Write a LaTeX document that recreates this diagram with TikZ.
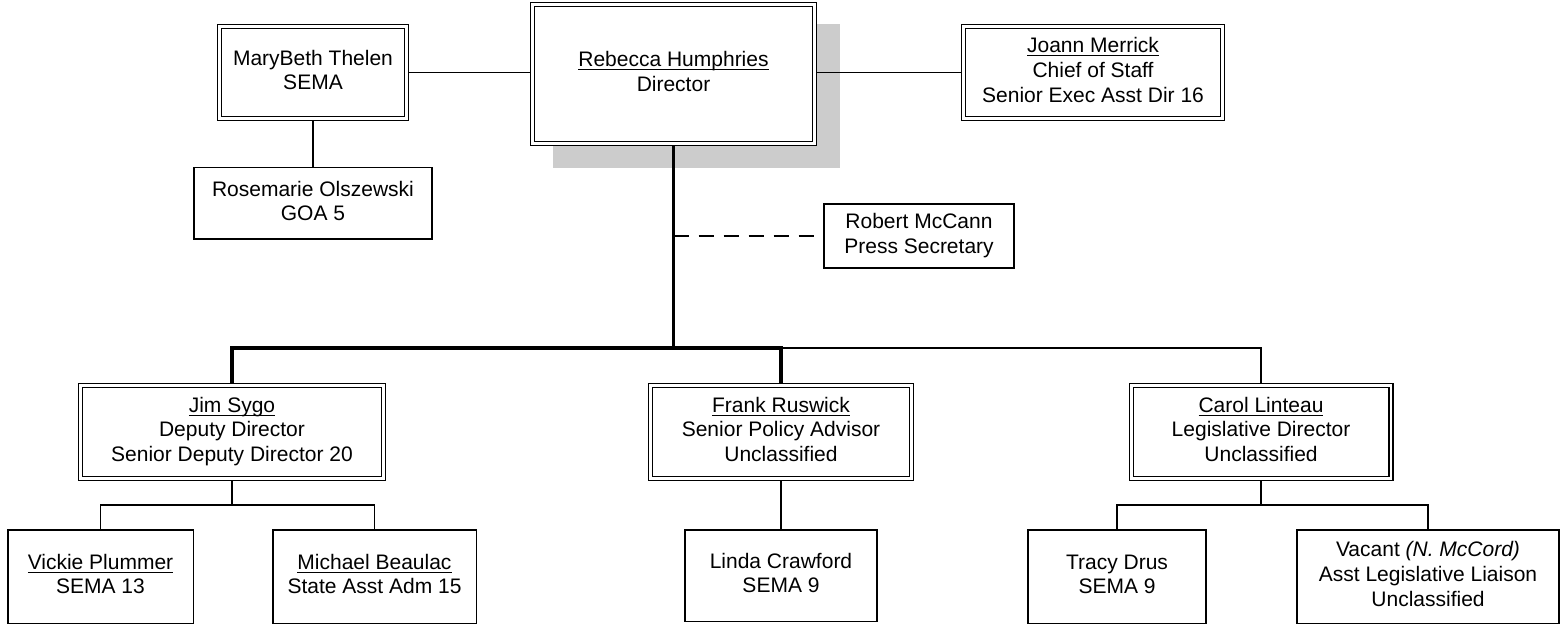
\documentclass[tikz,border=0pt]{standalone}
\usepackage{fontspec}
\setmainfont{Liberation Sans}
\usepackage{tikz}
\usetikzlibrary{positioning,backgrounds}
\definecolor{shadowgray}{RGB}{204,204,204}
\newcommand{\uname}[1]{\underline{\smash{#1}}}
\tikzset{
    person/.style={
      rectangle,
      draw=black, line width=0.8pt,
      fill=white,
      inner sep=0pt,
      text centered,
      font=\fontsize{10.5}{12.3}\selectfont,
    },
    lead/.style={
      person,
      line width=0.7pt,
      double=white, double distance=1.3pt,
      outer sep=1.35pt,
    },
    link/.style={-, line width=0.85pt},
    mainlink/.style={-, line width=1.65pt},
    staff/.style={-, line width=0.8pt, dash pattern=on 7.5pt off 5pt},
}

\begin{document}
\begin{tikzpicture}[x=0.5pt,y=-0.5pt]

    \useasboundingbox (0,0) rectangle (1561,625);

    % top row
    \node[lead,
    minimum width=140.8pt, minimum height=69.3pt] (DIR) at (673.5,74)
    {
      \begin{tabular}{c}
        \uname{Rebecca Humphries} \\
        Director
      \end{tabular}
    };

    \node[lead,
    minimum width=93.3pt, minimum height=45.8pt] (AST) at (313,72.5)
    {
      \begin{tabular}{c}
        MaryBeth Thelen \\
        SEMA
      \end{tabular}
    };

    \node[person,
    below of=AST,
    node distance=65.5pt,
    minimum width=119.2pt, minimum height=35.8pt] (GOA)
    {
      \begin{tabular}{c}
        Rosemarie Olszewski \\
        GOA 5
      \end{tabular}
    };

    \node[lead,
    minimum width=129.3pt, minimum height=45.8pt] (COS) at (1093,72.5)
    {
      \begin{tabular}{c}
        \uname{Joann Merrick} \\
        Chief of Staff \\
        Senior Exec Asst Dir 16
      \end{tabular}
    };

    \node[person,
    minimum width=95.2pt, minimum height=32.2pt] (PRS) at (919,236)
    {
      \begin{tabular}{c}
        Robert McCann \\
        Press Secretary
      \end{tabular}
    };

    % second row
    \node[lead,
    minimum width=151.3pt, minimum height=46.3pt] (DEP) at (232,432)
    {
      \begin{tabular}{c}
        \uname{Jim Sygo} \\
        Deputy Director \\
        Senior Deputy Director 20
      \end{tabular}
    };

    \node[lead,
    minimum width=130.3pt, minimum height=46.3pt] (POL) at (781,432)
    {
      \begin{tabular}{c}
        \uname{Frank Ruswick} \\
        Senior Policy Advisor \\
        Unclassified
      \end{tabular}
    };

    \node[lead,
    minimum width=129.8pt, minimum height=46.3pt] (LEG) at (1261,432)
    {
      \begin{tabular}{c}
        \uname{Carol Linteau} \\
        Legislative Director \\
        Unclassified
      \end{tabular}
    };

    % bottom row
    \node[person,
    minimum width=92.8pt, minimum height=46.8pt] (D1) at (100.5,576.5)
    {
      \begin{tabular}{c}
        \uname{Vickie Plummer} \\
        SEMA 13
      \end{tabular}
    };

    \node[person,
    minimum width=101.8pt, minimum height=46.8pt] (D2) at (374.5,576.5)
    {
      \begin{tabular}{c}
        \uname{Michael Beaulac} \\
        State Asst Adm 15
      \end{tabular}
    };

    \node[person,
    below of=POL,
    node distance=71.75pt,
    minimum width=96.2pt, minimum height=45.8pt] (P1)
    {
      \begin{tabular}{c}
        Linda Crawford \\
        SEMA 9
      \end{tabular}
    };

    \node[person,
    minimum width=89.2pt, minimum height=46.8pt] (L1) at (1117,576.5)
    {
      \begin{tabular}{c}
        Tracy Drus \\
        SEMA 9
      \end{tabular}
    };

    \node[person,
    minimum width=131.2pt, minimum height=46.8pt] (L2) at (1428,576.5)
    {
      \begin{tabular}{c}
        Vacant \textit{(N. McCord)} \\
        Asst Legislative Liaison \\
        Unclassified
      \end{tabular}
    };

    % shadow behind the director
    \begin{pgfonlayer}{background}
      \fill[shadowgray] ([shift={(23,22)}]DIR.south west)
        rectangle ([shift={(23,22)}]DIR.north east);
    \end{pgfonlayer}

    \coordinate (BUS) at (673.5,348);
    \coordinate (DEPFORK) at (232,505);
    \coordinate (LEGFORK) at (1261,505);

    \path[link]
    (AST) edge (AST -| DIR.west)
    (COS) edge (COS -| DIR.east)
    (AST) edge (GOA)
    (POL) edge (P1)
    (DEP) edge (DEPFORK)
    (LEG) edge (LEGFORK);

    \draw[mainlink] (DIR) -- (BUS);
    \draw[mainlink] (DEP) |- (BUS) -| (POL);
    \draw[link] (POL |- BUS) -| (LEG);
    \draw[staff] (DIR |- PRS) -- (PRS);

    \draw[link] (D1) |- (DEPFORK) -| (D2);
    \draw[link] (L1) |- (LEGFORK) -| (L2);

\end{tikzpicture}
\end{document}
